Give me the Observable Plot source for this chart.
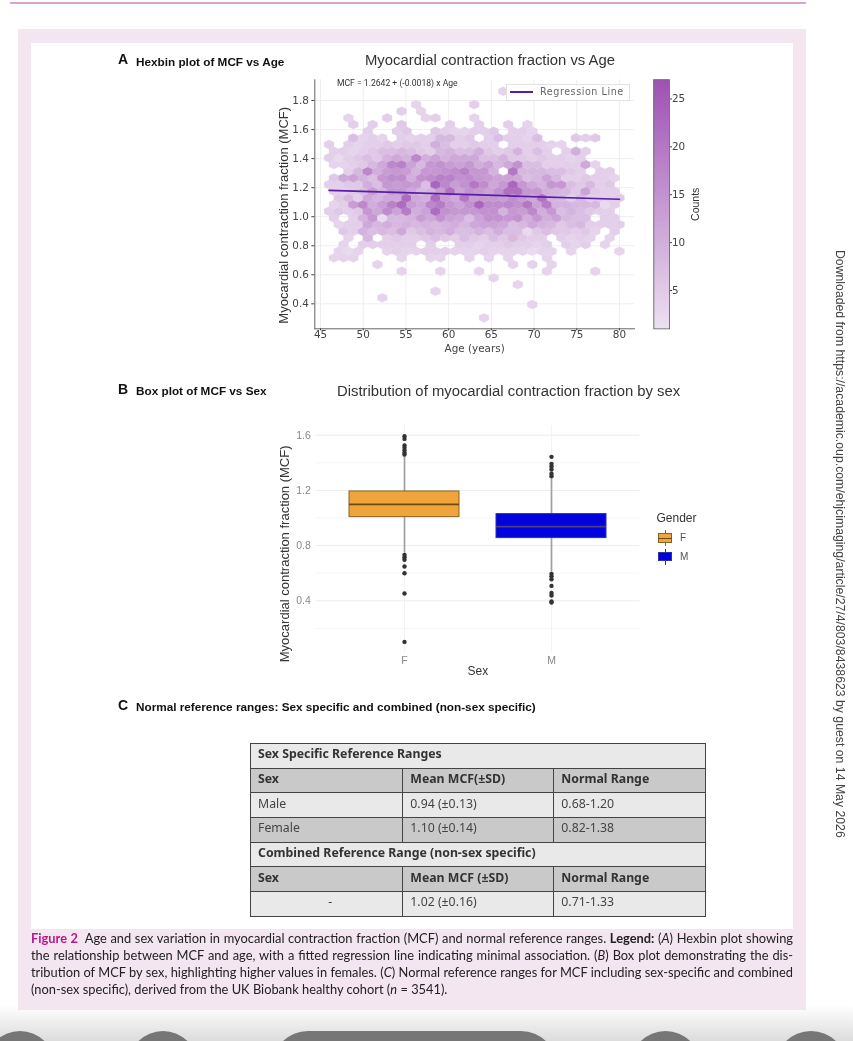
<!DOCTYPE html>
<html>
<head>
<meta charset="utf-8">
<script src="https://cdn.jsdelivr.net/npm/d3@7"></script>
<script src="https://cdn.jsdelivr.net/npm/@observablehq/plot@0.6"></script>
<style>
html,body{margin:0;padding:0;background:#fff;}
#page{position:relative;width:853px;height:1041px;overflow:hidden;background:#fff;font-family:"Liberation Sans",sans-serif;filter:blur(.35px);}
.abs{position:absolute;white-space:nowrap;}
#page svg{position:absolute;overflow:visible;background:none;}
.h{font-weight:bold;font-size:11.75px;color:#111;}
.L{font-weight:bold;font-size:14px;color:#111;}
.t{font-size:14.85px;color:#333;}
table{position:absolute;left:250px;top:743px;width:455px;height:173px;border-collapse:collapse;table-layout:fixed;font-family:"Noto Sans",sans-serif;font-size:12.3px;color:#444;}
td{border:1.3px solid #444;padding:0 0 3px 7px;height:24.7px;box-sizing:border-box;line-height:1;}
tr.hd td,tr.tt td{font-weight:bold;color:#333;}
.lt{background:#e9e9e9;}.dk{background:#c9c9c9;}
#cap{width:762px;font-family:Lato,sans-serif;font-size:12.85px;line-height:17px;color:#222;white-space:normal;}
#cap div{text-align:justify;text-align-last:justify;white-space:normal;}
#cap div:last-child{text-align-last:left;}
#cap b.f{color:#b5198c;}
</style>
</head>
<body>
<div id="page"></div>
<script>
// Panel A: hexbin, counts per hexagon. Outer index = row up the MCF axis, inner index = column along Age.
const hexFirstAge = 46, hexAgeStep = 1.1333, hexFirstMcf = 0.3035, hexMcfStep = 0.0459;
const hexCounts = [
/* 0*/[0,0,0,0,0,0,0,0,0,0,0,0,0,0,0,0,3],
/* 1*/[],
/* 2*/[0,0,0,0,0,0,0,0,0,0,0,0,0,0,0,0,0,0,0,0,0,3],
/* 3*/[0,0,0,0,0,3],
/* 4*/[0,0,0,0,0,0,0,0,0,0,0,3],
/* 5*/[0,0,0,0,0,0,0,0,0,0,0,0,0,0,0,0,0,0,0,3],
/* 6*/[0,0,0,0,0,0,0,0,0,0,0,0,0,0,0,0,0,3],
/* 7*/[0,0,0,0,0,0,0,3,0,0,0,3,0,0,0,3,0,0,0,0,0,0,3,0,0,0,0,3],
/* 8*/[0,0,0,0,0,3,0,0,0,0,0,0,0,0,0,0,0,0,0,3,0,3,0,3],
/* 9*/[3,3,3,0,0,0,0,3,0,0,3,3,0,0,3,0,3,0,3,0,0,0,3],
/*10*/[0,3,2,3,0,0,3,4,3,3,4,4,4,3,3,3,4,3,3,3,3,2,3,3,0,3,0,0,0,0,3],
/*11*/[0,3,0,4,4,4,4,4,4,0,4,0,0,4,4,3,4,4,5,4,4,3,4,0,4,3,4,0,3],
/*12*/[0,0,3,0,8,0,4,5,4,4,5,7,5,4,7,5,4,7,5,8,5,4,4,0,4,3,4,3,0,3],
/*13*/[0,5,4,9,7,8,7,11,5,7,9,8,10,7,7,9,7,10,7,7,2,5,7,5,5,4,5,3,0,4],
/*14*/[0,3,4,4,11,8,10,8,9,8,9,8,9,10,8,11,12,12,11,7,8,11,9,8,5,7,8,4,4,4,4],
/*15*/[4,0,4,9,14,2,8,8,9,13,11,15,12,11,7,12,15,15,14,15,10,14,10,12,8,7,7,0,4,4],
/*16*/[4,5,4,5,14,11,16,12,19,10,12,22,15,14,14,14,15,15,9,14,13,17,10,14,7,9,7,5,4,4],
/*17*/[3,4,13,17,10,13,18,22,13,11,17,19,14,12,15,23,16,16,17,15,20,12,19,9,9,8,8,8,2,4],
/*18*/[0,5,8,4,11,9,11,11,22,11,10,22,13,11,20,13,14,14,13,16,13,11,21,9,8,4,8,4,4,4,5],
/*19*/[4,4,5,7,13,9,14,14,11,8,9,13,21,12,15,14,12,15,21,21,14,14,10,9,8,5,12,5,4,4],
/*20*/[4,4,5,5,10,7,14,13,14,13,7,23,17,13,15,20,16,11,14,23,14,11,9,14,14,7,5,8,4,5],
/*21*/[5,11,12,9,7,14,16,16,10,15,16,18,18,15,16,14,13,12,12,11,7,8,12,8,4,4,5,4,4,3],
/*22*/[0,0,4,8,17,10,13,14,13,9,14,14,15,16,18,14,14,9,0,20,8,8,8,7,7,5,4,0,4,4],
/*23*/[3,3,4,5,8,11,17,18,12,8,14,15,13,12,14,10,12,8,11,15,7,7,4,4,4,4,11,3],
/*24*/[4,2,4,5,7,5,9,11,9,17,10,12,9,11,11,11,7,7,9,5,5,4,5,4,4,3,4],
/*25*/[4,4,3,4,5,7,7,8,7,5,4,8,9,7,7,10,5,4,5,9,4,7,4,0,4,10,4],
/*26*/[4,0,4,3,4,4,5,4,5,5,4,10,7,4,4,5,4,4,0,4,4,4,4,3,3],
/*27*/[0,0,7,3,4,3,0,4,3,4,4,8,8,4,5,0,4,7,4,4,3,7,0,0,0,5,4,5],
/*28*/[0,0,0,0,4,0,0,4,5,0,0,5,4,3,3,4,4,5,0,4,4,3],
/*29*/[0,0,4,0,4,0,0,5,0,0,0,0,4,0,0,4,0,0,4,0,3],
/*30*/[0,0,3,0,0,0,4,0,0,0,3,4,0,0,0,3],
/*31*/[0,0,0,0,0,0,0,4,0,3],
/*32*/[0,0,0,0,0,0,0,0,0,3,0,0,0,0,0,4],
/*33*/[],
/*34*/[0,0,0,0,0,0,0,0,0,0,0,0,0,0,0,0,0,0,3]
];
const regressionAge = [46, 80];
const regressionMcf = [1.1814, 1.1202];
const ageTicks = [45,50,55,60,65,70,75,80];
const mcfTicks = [0.4,0.6,0.8,1.0,1.2,1.4,1.6,1.8];
const countTicks = [5,10,15,20,25];

// Panel B: box plot
const sexes = ["F","M"];
const q1 = [1.006, 0.854];
const medians = [1.098, 0.938];
const q3 = [1.192, 1.028];
const whiskerLow = [0.745, 0.607];
const whiskerHigh = [1.453, 1.296];
const outliersF = [1.593,1.573,1.525,1.508,1.489,1.472,1.46,0.733,0.716,0.697,0.648,0.599,0.453,0.102];
const outliersM = [1.443,1.392,1.373,1.351,1.32,1.303,0.595,0.578,0.556,0.508,0.457,0.438,0.395,0.387];
const boxFill = ["#f0a53c","#0202dc"];
const boxStroke = ["#8a6124","#2f2fa8"];
const medianStroke = ["#6e4a12","#47407a"];
const boxMajor = [0.4,0.8,1.2,1.6];
const boxMinor = [0.2,0.6,1.0,1.4];

const page = document.getElementById("page");
function place(node, left, top){ node.style.left = left+"px"; node.style.top = top+"px"; page.appendChild(node); return node; }
function div(cls, left, top, html, css){ const d=document.createElement("div"); d.className="abs "+(cls||""); d.style.left=left+"px"; d.style.top=top+"px"; if(css) d.style.cssText+=";"+css; d.innerHTML=html||""; page.appendChild(d); return d; }

// page furniture
div("",10,2,"","width:796px;height:2px;background:#d8a3cf");
div("",0,1005,"","width:853px;height:36px;background:linear-gradient(#fff,#dcdcdc)");
div("",18,29,"","width:788px;height:981px;background:#f3e6f0");
div("",31,43,"","width:762px;height:886px;background:#fff");
[[-15,70],[128,70],[272,285],[630,71],[775,72]].forEach(([l,w])=>{
  div("",l,1031,"",`width:${w}px;height:40px;background:#767676;border-radius:${Math.min(w/2,36)}px ${Math.min(w/2,36)}px 0 0`);
});
div("",833,250,"Downloaded from https://academic.oup.com/ehjcimaging/article/27/4/803/8438623 by guest on 14 May 2026","writing-mode:vertical-rl;font-size:12.27px;color:#444;font-family:'Liberation Sans'");

// headings
div("L",118,51,"A");
div("h",136,55,"Hexbin plot of MCF vs Age");
div("t",365,52,"Myocardial contraction fraction vs Age");
div("L",118,381,"B");
div("h",136,384,"Box plot of MCF vs Sex");
div("t",337,383,"Distribution of myocardial contraction fraction by sex");
div("L",118,697,"C");
div("h",136,700,"Normal reference ranges: Sex specific and combined (non-sex specific)");

// Panel A
const hexCells = hexCounts.flatMap((row,j)=>row.map((count,i)=>({
  age: hexFirstAge + hexAgeStep*(i + (j%2)*0.5),
  mcf: hexFirstMcf + hexMcfStep*j,
  count
})).filter(d=>d.count>0));
const squashedHex = {draw(ctx,size){
  const rx=Math.sqrt(size/Math.PI), ry=rx*0.92, hy=ry/2;
  ctx.moveTo(0,-ry);ctx.lineTo(rx,-hy);ctx.lineTo(rx,hy);ctx.lineTo(0,ry);ctx.lineTo(-rx,hy);ctx.lineTo(-rx,-hy);ctx.closePath();
}};
const countColor = {type:"linear",domain:[1,27],range:["#ecdff1","#9e50b3"],interpolate:"rgb"};
const hexPlot = Plot.plot({
  width:370,height:285,marginLeft:44.3,marginRight:6,marginTop:9.3,marginBottom:26.7,
  style:{fontFamily:"DejaVu Sans",fontSize:"10.4px",color:"#444",background:"none",overflow:"visible"},
  x:{domain:[44.33,81.76]},
  y:{domain:[0.228,1.943]},
  color:countColor,
  marks:[
    Plot.gridX(ageTicks,{stroke:"#eeeeee",strokeOpacity:1}),
    Plot.gridY(mcfTicks,{stroke:"#eeeeee",strokeOpacity:1}),
    Plot.dot(hexCells,{x:"age",y:"mcf",fill:"count",stroke:"count",strokeWidth:0.4,r:4.84,symbol:squashedHex}),
    Plot.line(regressionAge.map((a,i)=>({age:a,mcf:regressionMcf[i]})),{x:"age",y:"mcf",stroke:"#5a1ea6",strokeWidth:1.7}),
    Plot.frame({anchor:"left",stroke:"#666"}),
    Plot.frame({anchor:"bottom",stroke:"#666"}),
    Plot.axisX({ticks:ageTicks,tickSize:2,tickPadding:0,label:"Age (years)",labelAnchor:"center",labelArrow:"none",labelOffset:23}),
    Plot.axisY({ticks:mcfTicks,tickSize:3,tickPadding:3,tickFormat:".1f",label:null}),
    Plot.text(["Myocardial contraction fraction (MCF)"],{frameAnchor:"left",textAnchor:"middle",rotate:-90,dx:-31,dy:11,fontFamily:"Liberation Sans",fontSize:13,fill:"#333"})
  ]
});
place(hexPlot,270,70);

// colour bar
const barSteps = d3.range(1,27,0.25);
const barPlot = Plot.plot({
  width:70,height:285,marginLeft:13.3,marginRight:41,marginTop:9.3,marginBottom:26.7,
  style:{fontFamily:"DejaVu Sans",fontSize:"10.4px",color:"#444",background:"none",overflow:"visible"},
  x:{domain:[0,1],axis:null},
  y:{domain:[1,27]},
  color:countColor,
  marks:[
    Plot.rect(barSteps,{x1:0,x2:1,y1:d=>d,y2:d=>Math.min(27,d+0.4),fill:d=>d}),
    Plot.frame({stroke:"#777"}),
    Plot.axisY({anchor:"right",ticks:countTicks,tickSize:2,tickPadding:0.5,label:null}),
    Plot.axisY({anchor:"right",ticks:[],tickSize:0,label:"Counts",labelAnchor:"center",labelArrow:"none",labelOffset:29,fontFamily:"Liberation Sans",fontSize:10.5,fill:"#333"})
  ]
});
place(barPlot,640,70);

// overlays of panel A
div("",337,78,"MCF = 1.2642 + (-0.0018) x Age","font-family:Roboto;font-size:8.6px;color:#333");
div("",505.7,84.3,"","width:122px;height:15px;background:rgba(255,255,255,.9);border:1px solid #e2e2e2");
div("",510,91,"","width:23px;height:1.8px;background:#5a1ea6");
div("",540,85.5,"Regression Line","font-family:'DejaVu Sans';font-size:9.6px;color:#666;letter-spacing:.55px");

// Panel B
const boxes = sexes.map((sex,i)=>({sex,q1:q1[i],med:medians[i],q3:q3[i],lo:whiskerLow[i],hi:whiskerHigh[i],fill:boxFill[i],stroke:boxStroke[i],mstroke:medianStroke[i]}));
const outliers = [...outliersF.map(v=>({sex:"F",v})),...outliersM.map(v=>({sex:"M",v}))];
const boxPlot = Plot.plot({
  width:380,height:262,marginLeft:45.3,marginRight:10.6,marginTop:5,marginBottom:30.3,
  style:{fontFamily:"Liberation Sans",fontSize:"10.5px",color:"#888",background:"none",overflow:"visible"},
  x:{domain:sexes,type:"band",paddingInner:0.25,paddingOuter:0.225},
  y:{domain:[0.0275,1.67]},
  marks:[
    Plot.gridY(boxMinor,{stroke:"#f6f6f6",strokeOpacity:1}),
    Plot.gridY(boxMajor,{stroke:"#ececec",strokeOpacity:1}),
    Plot.ruleX(sexes,{x:d=>d,stroke:"#f3f3f3"}),
    Plot.ruleX(boxes,{x:"sex",y1:"lo",y2:"hi",stroke:"#a0a0a0",strokeWidth:1.7}),
    Plot.dot(outliers,{x:"sex",y:"v",r:2.2,fill:"#333"}),
    Plot.barY(boxes,{x:"sex",y1:"q1",y2:"q3",fill:"fill",stroke:"stroke",strokeWidth:1}),
    Plot.tickY(boxes,{x:"sex",y:"med",stroke:"mstroke",strokeWidth:1.8}),
    Plot.axisX({tickSize:0,tickPadding:4,label:null,fill:"#888"}),
    Plot.axisX({ticks:[],tickSize:0,label:"Sex",labelAnchor:"center",labelArrow:"none",labelOffset:23,fontSize:12,fill:"#333"}),
    Plot.axisY({ticks:boxMajor,tickSize:0,tickPadding:5,tickFormat:".1f",label:null}),
    Plot.text(["Myocardial contraction fraction (MCF)"],{frameAnchor:"left",textAnchor:"middle",rotate:-90,dx:-31,dy:15,fontSize:13,fill:"#333"})
  ]
});
place(boxPlot,270,420);

// Gender legend
div("",656.5,511,"Gender","font-size:12px;color:#333");
[[533,"F"],[551.7,"M"]].forEach(([top,lab],i)=>{
  div("",665,top-3,"",`width:1px;height:16px;background:${boxStroke[i]}`);
  div("",658,top,"",`width:14px;height:9.5px;box-sizing:border-box;background:${boxFill[i]};border:1px solid ${boxStroke[i]}`);
  if(i===0) div("",658,top+4.5,"",`width:14px;height:1.2px;background:${medianStroke[i]}`);
  div("",680,top-1,lab,"font-size:10px;color:#555");
});

// Table C
const tableRows = [
 ["tt lt",["Sex Specific Reference Ranges"]],
 ["hd dk",["Sex","Mean MCF(±SD)","Normal Range"]],
 ["lt",["Male","0.94 (±0.13)","0.68-1.20"]],
 ["dk",["Female","1.10 (±0.14)","0.82-1.38"]],
 ["tt lt",["Combined Reference Range (non-sex specific)"]],
 ["hd dk",["Sex","Mean MCF (±SD)","Normal Range"]],
 ["lt",["-","1.02 (±0.16)","0.71-1.33"]]
];
const tbl=document.createElement("table");
tbl.innerHTML='<colgroup><col style="width:152.3px"><col style="width:151px"><col style="width:151.7px"></colgroup>'+tableRows.map(([c,cells])=>
  `<tr class="${c}">`+(cells.length===1?`<td colspan="3">${cells[0]}</td>`:cells.map(t=>`<td${t==="-"?' style="text-align:center"':''}>${t}</td>`).join(""))+"</tr>").join("");
page.appendChild(tbl);

// caption
const cap=div("", 31,930,
 '<div><b class="f">Figure 2</b>&nbsp; Age and sex variation in myocardial contraction fraction (MCF) and normal reference ranges. <b>Legend:</b> (<i>A</i>) Hexbin plot showing</div>'+
 '<div>the relationship between MCF and age, with a fitted regression line indicating minimal association. (<i>B</i>) Box plot demonstrating the dis-</div>'+
 '<div>tribution of MCF by sex, highlighting higher values in females. (<i>C</i>) Normal reference ranges for MCF including sex-specific and combined</div>'+
 '<div>(non-sex specific), derived from the UK Biobank healthy cohort (<i>n</i> = 3541).</div>');
cap.id="cap";
</script>
</body>
</html>
